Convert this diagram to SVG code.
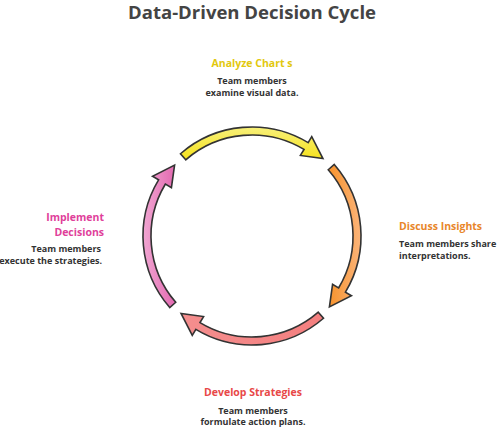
<svg xmlns="http://www.w3.org/2000/svg" width="500" height="429" viewBox="0 0 500 429">
<style>
.title{font-family:"Open Sans","Liberation Sans",sans-serif;font-weight:700;font-size:18px;fill:#444;text-anchor:middle}
.lab{font-family:"Open Sans","Liberation Sans",sans-serif;font-weight:700;font-size:10.5px}
.body{font-family:"Open Sans","Liberation Sans",sans-serif;font-weight:700;font-size:9px;fill:#333}
.arr{stroke:#333;stroke-width:1.6;stroke-linejoin:miter}
</style>
<defs>
<path id="arc" d="M -66.27 -76.22 L -71.51 -82.26 A 109 109 0 0 1 56.14 -93.43 L 59.74 -99.44 L 70.94 -77.42 L 48.41 -80.58 L 52.02 -86.58 A 101 101 0 0 0 -66.27 -76.22 Z"/>
<linearGradient id="gy" x1="0" y1="0" x2="0" y2="1"><stop offset="0" stop-color="#f7f07a"/><stop offset="1" stop-color="#f6e21c"/></linearGradient>
<linearGradient id="go" x1="0" y1="0" x2="0" y2="1"><stop offset="0" stop-color="#fbb47a"/><stop offset="1" stop-color="#f7922a"/></linearGradient>
<linearGradient id="gr" x1="0" y1="0" x2="1" y2="0"><stop offset="0" stop-color="#f47f7f"/><stop offset="1" stop-color="#f48e8e"/></linearGradient>
<linearGradient id="gp" x1="0" y1="0" x2="0" y2="1"><stop offset="0" stop-color="#f1a6d2"/><stop offset="1" stop-color="#e268b0"/></linearGradient>
</defs>
<rect width="500" height="429" fill="#fff"/>
<text class="title" x="252" y="19" textLength="248" lengthAdjust="spacingAndGlyphs">Data-Driven Decision Cycle</text>
<g id="connectors" transform="translate(252,236)">
<use href="#arc" class="arr" fill="url(#gy)"/>
<use href="#arc" class="arr" fill="url(#go)" transform="rotate(90)"/>
<use href="#arc" class="arr" fill="url(#gr)" transform="rotate(180)"/>
<use href="#arc" class="arr" fill="url(#gp)" transform="rotate(270)"/>
</g>
<g id="analyze">
<text class="lab" x="252" y="67" text-anchor="middle" fill="#e2c80e">Analyze Chart s</text>
<text class="body" x="252" y="83.5" text-anchor="middle">Team members</text>
<text class="body" x="252" y="96" text-anchor="middle">examine visual data.</text>
</g>
<g id="discuss">
<text class="lab" x="399" y="229.5" fill="#e8862a">Discuss Insights</text>
<text class="body" x="399" y="247">Team members share</text>
<text class="body" x="399" y="259">interpretations.</text>
</g>
<g id="develop">
<text class="lab" x="253" y="396" text-anchor="middle" fill="#e84848">Develop Strategies</text>
<text class="body" x="253" y="413.5" text-anchor="middle">Team members</text>
<text class="body" x="253" y="425" text-anchor="middle">formulate action plans.</text>
</g>
<g id="implement">
<text class="lab" x="104" y="221" text-anchor="end" fill="#e0409a">Implement</text>
<text class="lab" x="104" y="235.5" text-anchor="end" fill="#e0409a">Decisions</text>
<text class="body" x="101" y="252" text-anchor="end">Team members</text>
<text class="body" x="102" y="264" text-anchor="end" font-size="8.7">execute the strategies.</text>
</g>
</svg>
